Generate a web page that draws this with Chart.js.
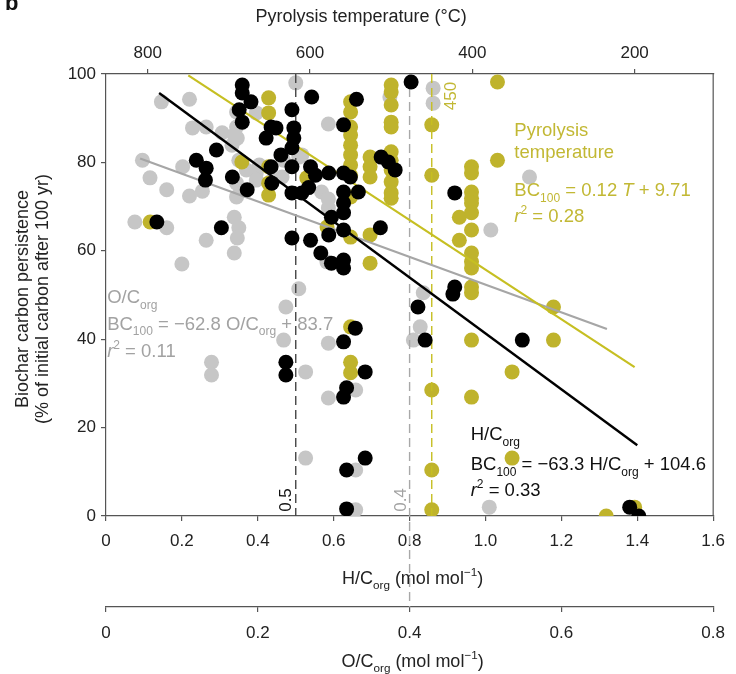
<!DOCTYPE html>
<html>
<head>
<meta charset="utf-8">
<script src="https://cdn.jsdelivr.net/npm/chart.js@4.4.1/dist/chart.umd.min.js"></script>
<style>
  html, body { margin: 0; padding: 0; background: #fff; }
</style>
</head>
<body>
<canvas id="chart" width="736" height="674"></canvas>
<script>
// H/C_org points (black): [H/C, BC100]
const hcPoints = [
  [0.134, 66.5], [0.304, 65.2], [0.238, 80.5], [0.264, 78.7], [0.262, 76.0], [0.291, 82.8],
  [0.333, 76.7], [0.372, 73.8], [0.359, 97.5], [0.359, 95.7], [0.382, 93.7], [0.351, 91.9],
  [0.359, 89.1], [0.435, 88.0], [0.422, 85.5], [0.448, 87.8], [0.490, 91.9], [0.495, 87.8],
  [0.495, 85.5], [0.490, 83.3], [0.542, 94.8], [0.660, 94.3], [0.626, 88.5], [0.461, 81.7],
  [0.435, 79.0], [0.490, 79.0], [0.437, 75.3], [0.539, 79.0], [0.552, 77.1], [0.587, 77.6],
  [0.626, 77.6], [0.644, 76.7], [0.490, 73.1], [0.516, 73.1], [0.534, 74.3], [0.626, 73.3],
  [0.665, 73.3], [0.626, 70.8], [0.626, 68.6], [0.594, 67.6], [0.626, 64.7], [0.723, 65.2],
  [0.587, 63.6], [0.490, 62.9], [0.539, 62.4], [0.566, 59.5], [0.594, 57.2], [0.626, 57.9],
  [0.626, 56.1], [0.725, 81.2], [0.744, 80.1], [0.762, 78.3], [0.804, 98.2], [0.657, 42.5],
  [0.626, 39.4], [0.474, 34.8], [0.474, 31.9], [0.683, 32.6], [0.634, 29.0], [0.626, 26.9],
  [0.683, 13.1], [0.634, 10.4], [0.634, 1.6], [0.919, 51.8], [0.914, 50.2], [0.822, 47.3],
  [0.841, 39.8], [1.097, 39.8], [1.380, 2.0], [1.404, 0.0], [0.919, 73.1]
];

// O/C_org points (grey): [O/C, BC100]
const ocPoints = [
  [0.073, 93.7], [0.110, 94.3], [0.114, 87.8], [0.132, 88.0], [0.153, 86.7], [0.172, 88.0],
  [0.173, 85.5], [0.166, 83.9], [0.048, 80.5], [0.058, 76.5], [0.080, 73.8], [0.101, 79.0],
  [0.110, 72.4], [0.127, 73.5], [0.175, 80.5], [0.172, 75.3], [0.172, 72.2], [0.185, 78.3],
  [0.198, 77.6], [0.198, 91.2], [0.202, 79.4], [0.234, 80.5], [0.254, 81.2], [0.293, 88.7],
  [0.038, 66.5], [0.080, 65.2], [0.169, 67.6], [0.175, 65.2], [0.173, 62.9], [0.132, 62.4],
  [0.169, 59.5], [0.100, 57.0], [0.250, 98.0], [0.284, 73.3], [0.293, 71.7], [0.293, 69.7],
  [0.291, 57.5], [0.254, 51.4], [0.237, 47.3], [0.219, 76.0], [0.234, 39.8], [0.293, 39.1],
  [0.139, 34.8], [0.139, 31.9], [0.263, 32.6], [0.293, 26.7], [0.329, 28.5], [0.263, 13.1],
  [0.329, 10.4], [0.329, 1.4], [0.405, 39.8], [0.418, 50.5], [0.414, 42.8], [0.505, 2.0],
  [0.431, 96.8], [0.431, 93.4], [0.558, 76.7], [0.507, 64.7], [0.172, 91.4], [0.169, 86.2],
  [0.258, 81.7], [0.198, 76.0], [0.232, 76.7], [0.374, 94.8]
];

// Pyrolysis temperature points (olive): [T (°C), BC100]
const tempPoints = [
  [797, 66.5], [684, 80.1], [604, 76.5], [579, 65.4],
  [651, 94.6], [651, 91.2], [651, 79.0], [651, 75.3], [651, 72.6],
  [550, 93.7], [550, 91.4], [550, 88.0], [550, 86.2], [550, 83.9], [550, 81.7], [550, 79.4],
  [550, 77.1], [550, 72.2], [550, 63.1], [550, 42.8], [550, 34.8], [550, 32.4],
  [526, 81.2], [526, 79.0], [526, 76.7], [526, 63.6], [526, 57.2],
  [500, 97.5], [500, 95.9], [500, 93.0], [500, 89.1], [500, 88.0], [500, 82.4], [500, 80.5],
  [500, 78.3], [500, 75.6], [500, 73.1], [500, 71.9],
  [450, 88.5], [450, 77.1], [450, 28.5], [450, 10.4], [450, 1.4],
  [416, 67.6], [416, 62.4],
  [401, 79.0], [401, 77.6], [401, 73.3], [401, 71.9], [401, 70.8], [401, 68.6], [401, 64.7],
  [401, 59.5], [401, 57.5], [401, 56.1], [401, 51.8], [401, 50.5], [401, 39.8], [401, 26.9],
  [369, 98.2], [369, 80.5], [351, 32.6], [351, 13.1], [300, 47.3], [300, 39.8],
  [235, 0.0], [200, 2.0]
];

// regression line end points
const hcFit = [[0.14, 95.7], [1.40, 16.0]];
const ocFit = [[0.045, 80.9], [0.66, 42.3]];
const tempFit = [[750, 99.7], [200, 33.7]];

// threshold lines
const hcLimit = 0.5;
const ocLimit = 0.4;
const tempLimit = 450;

const yTicks = [0, 20, 40, 60, 80, 100];
const hcTicks = [0, 0.2, 0.4, 0.6, 0.8, 1.0, 1.2, 1.4, 1.6];
const ocTicks = [0, 0.2, 0.4, 0.6, 0.8];
const tempTicks = [800, 600, 400, 200];

const FAM = "'Liberation Sans', Arial, sans-serif";
const AXIS = "#555";
const GREY = "#c6c6c6";
const OLIVE = "#bfb32c";
const OLIVE_LINE = "#c6bf22";
const OLIVE_TEXT = "#c2b834";
const GREY_TEXT = "#a2a2a2";

const toXY = (arr) => arr.map(([x, y]) => ({ x, y }));
const fmt = (v) => (v === 0 ? "0" : v.toFixed(1));

function rich(ctx, parts, x, y, size, color, align) {
  const segs = parts.map(([t, s]) => {
    const small = s === "sub" || s === "sup";
    const font = (s === "i" ? "italic " : "") + (small ? size * 0.65 : size) + "px " + FAM;
    ctx.font = font;
    const dy = s === "sub" ? size * 0.3 : s === "sup" ? -size * 0.42 : 0;
    return { t, font, dy, w: ctx.measureText(t).width };
  });
  const total = segs.reduce((a, s) => a + s.w, 0);
  let cx = align === "center" ? x - total / 2 : x;
  ctx.fillStyle = color;
  ctx.textAlign = "left";
  ctx.textBaseline = "alphabetic";
  for (const s of segs) {
    ctx.font = s.font;
    ctx.fillText(s.t, cx, y + s.dy);
    cx += s.w;
  }
}

function axis(extra) {
  return Object.assign({
    type: "linear",
    grid: { drawOnChartArea: false, tickLength: 5, color: AXIS, lineWidth: 1.2 },
    border: { color: AXIS, width: 1.2 },
    ticks: { color: "#222", font: { family: FAM, size: 17 } },
  }, extra);
}

const setTicks = (list) => (s) => { s.ticks = list.map((v) => ({ value: v })); };

const refLines = {
  id: "refLines",
  beforeDatasetDraw(chart, args) {
    if (args.index !== 3) return;
    const { ctx, chartArea: a, scales } = chart;
    ctx.save();
    ctx.lineWidth = 1.4;
    ctx.setLineDash([9, 5]);
    let x = scales.x.getPixelForValue(hcLimit);
    ctx.strokeStyle = "#444";
    ctx.beginPath(); ctx.moveTo(x, a.top); ctx.lineTo(x, a.bottom); ctx.stroke();
    x = scales.xOC.getPixelForValue(ocLimit);
    ctx.strokeStyle = "#a8a8a8";
    ctx.beginPath(); ctx.moveTo(x, a.top); ctx.lineTo(x, scales.xOC.top); ctx.stroke();
    x = scales.xT.getPixelForValue(tempLimit);
    ctx.strokeStyle = OLIVE_LINE;
    ctx.beginPath(); ctx.moveTo(x, a.top); ctx.lineTo(x, a.bottom); ctx.stroke();
    ctx.restore();
  },
};

const labels = {
  id: "labels",
  afterDatasetsDraw(chart) {
    const { ctx, chartArea: a, scales } = chart;
    const X = (v) => scales.x.getPixelForValue(v);
    const Y = (v) => scales.y.getPixelForValue(v);
    ctx.save();

    // right frame edge
    ctx.strokeStyle = AXIS;
    ctx.lineWidth = 1.2;
    ctx.beginPath(); ctx.moveTo(a.right, a.top); ctx.lineTo(a.right, a.bottom); ctx.stroke();

    // rotated threshold labels
    const vlabel = (text, px, py, color) => {
      ctx.save();
      ctx.translate(px, py);
      ctx.rotate(-Math.PI / 2);
      ctx.font = "17px " + FAM;
      ctx.fillStyle = color;
      ctx.textAlign = "center";
      ctx.textBaseline = "middle";
      ctx.fillText(text, 0, 0);
      ctx.restore();
    };
    vlabel("0.5", scales.x.getPixelForValue(hcLimit) - 9, a.bottom - 16, "#111");
    vlabel("0.4", scales.xOC.getPixelForValue(ocLimit) - 8, a.bottom - 16, GREY_TEXT);
    vlabel("450", scales.xT.getPixelForValue(tempLimit) + 20, a.top + 22, OLIVE_TEXT);

    // fit annotations
    const S = 18.5;
    rich(ctx, [["Pyrolysis", ""]], X(1.076), Y(86.0), S, OLIVE_TEXT);
    rich(ctx, [["temperature", ""]], X(1.076), Y(81.0), S, OLIVE_TEXT);
    rich(ctx, [["BC", ""], ["100", "sub"], [" = 0.12 ", ""], ["T", "i"], [" + 9.71", ""]], X(1.076), Y(72.4), S, OLIVE_TEXT);
    rich(ctx, [["r", "i"], ["2", "sup"], [" = 0.28", ""]], X(1.076), Y(66.5), S, OLIVE_TEXT);

    rich(ctx, [["O/C", ""], ["org", "sub"]], X(0.003), Y(48.2), S, GREY_TEXT);
    rich(ctx, [["BC", ""], ["100", "sub"], [" = \u221262.8 O/C", ""], ["org", "sub"], [" + 83.7", ""]], X(0.003), Y(42.1), S, GREY_TEXT);
    rich(ctx, [["r", "i"], ["2", "sup"], [" = 0.11", ""]], X(0.003), Y(36.0), S, GREY_TEXT);

    rich(ctx, [["H/C", ""], ["org", "sub"]], X(0.961), Y(17.2), S, "#111");
    rich(ctx, [["BC", ""], ["100", "sub"], [" = \u221263.3 H/C", ""], ["org", "sub"], [" + 104.6", ""]], X(0.961), Y(10.4), S, "#111");
    rich(ctx, [["r", "i"], ["2", "sup"], [" = 0.33", ""]], X(0.961), Y(4.5), S, "#111");

    // axis titles
    const cx = (a.left + a.right) / 2;
    rich(ctx, [["Pyrolysis temperature (\u00b0C)", ""]], a.left + (a.right - a.left) * 0.42, 22, 18, "#222", "center");
    rich(ctx, [["H/C", ""], ["org", "sub"], [" (mol mol", ""], ["\u22121", "sup"], [")", ""]], cx + 3, scales.x.bottom - 23, 18, "#222", "center");
    rich(ctx, [["O/C", ""], ["org", "sub"], [" (mol mol", ""], ["\u22121", "sup"], [")", ""]], cx + 3, scales.xOC.bottom - 7, 18, "#222", "center");

    ctx.save();
    ctx.translate(22, (a.top + a.bottom) / 2 + 4);
    ctx.rotate(-Math.PI / 2);
    rich(ctx, [["Biochar carbon persistence", ""]], 0, 6, 18, "#222", "center");
    rich(ctx, [["(% of initial carbon after 100 yr)", ""]], 0, 26, 18, "#222", "center");
    ctx.restore();

    // panel letter, cut at the top edge
    ctx.font = "bold 22px " + FAM;
    ctx.fillStyle = "#111";
    ctx.textAlign = "left";
    ctx.textBaseline = "alphabetic";
    ctx.fillText("b", 5, 10);

    ctx.restore();
  },
};

new Chart(document.getElementById("chart"), {
  type: "scatter",
  data: {
    datasets: [
      { data: toXY(hcPoints), xAxisID: "x", backgroundColor: "#000", pointRadius: 7.5, borderWidth: 0 },
      { data: toXY(hcFit), xAxisID: "x", showLine: true, borderColor: "#000", borderWidth: 2.4, pointRadius: 0 },
      { data: toXY(tempFit), xAxisID: "xT", showLine: true, borderColor: OLIVE_LINE, borderWidth: 2.2, pointRadius: 0 },
      { data: toXY(ocFit), xAxisID: "xOC", showLine: true, borderColor: "#a6a6a6", borderWidth: 2.2, pointRadius: 0 },
      { data: toXY(tempPoints), xAxisID: "xT", backgroundColor: OLIVE, pointRadius: 7.5, borderWidth: 0 },
      { data: toXY(ocPoints), xAxisID: "xOC", backgroundColor: GREY, pointRadius: 7.5, borderWidth: 0 },
    ],
  },
  options: {
    responsive: false,
    animation: false,
    events: [],
    layout: { padding: { left: 0, top: 0, right: 19, bottom: 0 } },
    plugins: { legend: { display: false }, tooltip: { enabled: false } },
    scales: {
      y: axis({
        position: "left", min: 0, max: 100,
        afterBuildTicks: setTicks(yTicks),
        afterFit: (s) => { s.width = 106; },
        ticks: { color: "#222", font: { family: FAM, size: 17 }, padding: 5 },
      }),
      x: axis({
        position: "bottom", min: 0, max: 1.6, weight: 1,
        afterBuildTicks: setTicks(hcTicks),
        afterFit: (s) => { s.height = 91; },
        ticks: { color: "#222", font: { family: FAM, size: 17 }, padding: 10, maxRotation: 0, callback: fmt },
      }),
      xOC: axis({
        position: "bottom", min: 0, max: 0.8, weight: 2,
        afterBuildTicks: setTicks(ocTicks),
        afterFit: (s) => { s.height = 67; },
        ticks: { color: "#222", font: { family: FAM, size: 17 }, padding: 11, maxRotation: 0, callback: fmt },
      }),
      xT: axis({
        position: "top", min: 103.2, max: 851.4, reverse: true,
        afterBuildTicks: setTicks(tempTicks),
        afterFit: (s) => { s.height = 74; },
        ticks: { color: "#222", font: { family: FAM, size: 17 }, padding: 5, maxRotation: 0 },
      }),
    },
  },
  plugins: [refLines, labels],
});
</script>
</body>
</html>
